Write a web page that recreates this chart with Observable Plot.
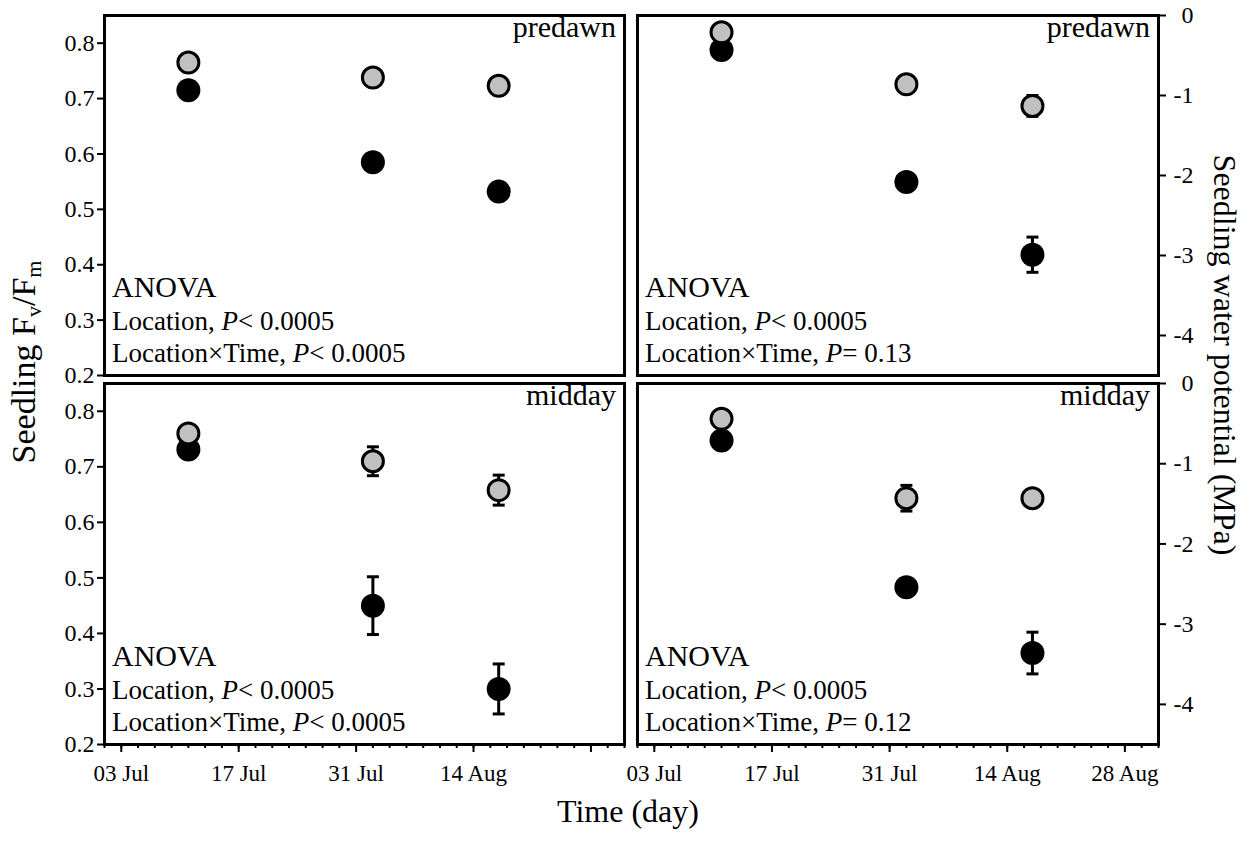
<!DOCTYPE html>
<html><head><meta charset="utf-8">
<script src="https://cdn.jsdelivr.net/npm/d3@7"></script>
<script src="https://cdn.jsdelivr.net/npm/@observablehq/plot@0.6"></script>
<style>
body{margin:0;background:#fff;}
#chart{position:relative;width:1251px;height:847px;font-family:"Liberation Serif","Times New Roman",serif;color:#000;overflow:hidden;}
.panel{position:absolute;}
.title{position:absolute;white-space:nowrap;font-size:32px;line-height:1;transform-origin:center center;}
.title sub{font-size:22px;vertical-align:-6px;line-height:0;}
</style></head><body><div id="chart"></div>
<script>
// ---------- data ----------
const sampleDates = ["2005-07-11", "2005-08-02", "2005-08-17"];
const majorTickDates = ["2005-07-03", "2005-07-17", "2005-07-31", "2005-08-14", "2005-08-28"];
const leftLabeledDates = ["2005-07-03", "2005-07-17", "2005-07-31", "2005-08-14"];
const timeDomain = ["2005-07-01", "2005-09-01"];
const fvfmTicks = [0.2, 0.3, 0.4, 0.5, 0.6, 0.7, 0.8];
const psiTicks = [0, -1, -2, -3, -4];
const fvfmDomain = [0.2, 0.85];
const psiDomain = [-4.5, 0];

// Fv/Fm, predawn
const predawnFvFmGray = [0.765, 0.738, 0.723];
const predawnFvFmGrayErr = [0.008, 0.008, 0.008];
const predawnFvFmBlack = [0.715, 0.585, 0.532];
const predawnFvFmBlackErr = [0.008, 0.010, 0.012];
// Fv/Fm, midday
const middayFvFmGray = [0.760, 0.710, 0.658];
const middayFvFmGrayErr = [0.008, 0.026, 0.027];
const middayFvFmBlack = [0.731, 0.450, 0.300];
const middayFvFmBlackErr = [0.010, 0.052, 0.045];
// Water potential (MPa), predawn
const predawnPsiGray = [-0.21, -0.86, -1.13];
const predawnPsiGrayErr = [0.05, 0.05, 0.13];
const predawnPsiBlack = [-0.43, -2.08, -2.99];
const predawnPsiBlackErr = [0.05, 0.08, 0.22];
// Water potential (MPa), midday
const middayPsiGray = [-0.44, -1.43, -1.43];
const middayPsiGrayErr = [0.05, 0.16, 0.05];
const middayPsiBlack = [-0.71, -2.54, -3.36];
const middayPsiBlackErr = [0.05, 0.08, 0.26];

// ---------- helpers ----------
const FONT = '"Liberation Serif", "Times New Roman", serif';
const GRAY = "#c0c0c0";
const rows = (vals, errs) => sampleDates.map((d, i) => ({date: new Date(d), v: vals[i], lo: vals[i] - errs[i], hi: vals[i] + errs[i]}));
const capSymbol = {draw(ctx, size) { const w = Math.sqrt(size / Math.PI); ctx.moveTo(-w, 0); ctx.lineTo(w, 0); }};
const fmtDate = d3.utcFormat("%d %b");
const minorDates = d3.utcDay.range(new Date("2005-07-01"), new Date("2005-09-02"), 2);

function addLabel(svg, x, y, parts, size, anchor = "start") {
  const t = d3.select(svg).append("text")
    .attr("x", x).attr("y", y)
    .style("font-family", FONT).style("font-size", size + "px")
    .attr("text-anchor", anchor).attr("fill", "black");
  for (const [s, it] of parts) t.append("tspan").style("font-style", it ? "italic" : null).text(s);
}

function panel(cfg) {
  const {left, top, width, height, ml, mr, mt, mb, yDomain, side, bottomAxis, labeled,
         gray, grayErr, black, blackErr, period, stat2} = cfg;
  const g = rows(gray, grayErr), b = rows(black, blackErr);
  const marks = [];
  if (side === "left") {
    marks.push(Plot.axisY(fvfmTicks, {anchor: "left", tickSize: 7, tickPadding: 3, tickFormat: d3.format(".1f"),
      fontSize: 24, strokeWidth: 2, label: null}));
  } else {
    marks.push(Plot.axisY(psiTicks, {anchor: "right", tickSize: 7, tickPadding: 28, textAnchor: "end",
      tickFormat: d => d === 0 ? "0" : "-" + Math.abs(d), fontSize: 24, strokeWidth: 2, label: null}));
  }
  if (bottomAxis) {
    marks.push(Plot.axisX(minorDates, {anchor: "bottom", tickSize: 4, fill: "none", strokeWidth: 2, label: null}));
    marks.push(Plot.axisX(majorTickDates.map(d => new Date(d)), {anchor: "bottom", tickSize: 8, tickPadding: 12,
      tickFormat: d => labeled.includes(d.toISOString().slice(0, 10)) ? fmtDate(d) : "",
      fontSize: 23, strokeWidth: 2, label: null}));
  }
  for (const data of [b, g]) {
    marks.push(Plot.ruleX(data, {x: "date", y1: "lo", y2: "hi", stroke: "black", strokeWidth: 3}));
    marks.push(Plot.dot(data, {x: "date", y: "lo", symbol: capSymbol, r: 6, stroke: "black", strokeWidth: 3}));
    marks.push(Plot.dot(data, {x: "date", y: "hi", symbol: capSymbol, r: 6, stroke: "black", strokeWidth: 3}));
  }
  marks.push(Plot.dot(b, {x: "date", y: "v", r: 12, fill: "black", stroke: "none"}));
  marks.push(Plot.dot(g, {x: "date", y: "v", r: 10.5, fill: GRAY, stroke: "black", strokeWidth: 3}));
  marks.push(Plot.frame({stroke: "black", strokeWidth: 3}));

  const svg = Plot.plot({
    width, height, marginLeft: ml, marginRight: mr, marginTop: mt, marginBottom: mb,
    style: {fontFamily: FONT, fontSize: "22px", background: "transparent", overflow: "visible", color: "black"},
    x: {type: "utc", domain: timeDomain.map(d => new Date(d)), axis: null},
    y: {domain: yDomain, axis: null},
    marks
  });
  const fl = ml, fr = width - mr, fb = height - mb;
  addLabel(svg, fr - 8, mt + 22, [[period, false]], 30, "end");
  addLabel(svg, fl + 8, fb - 78, [["ANOVA", false]], 30);
  addLabel(svg, fl + 8, fb - 45, [["Location, ", false], ["P", true], ["< 0.0005", false]], 27);
  addLabel(svg, fl + 8, fb - 13, [["Location\u00d7Time, ", false], ["P", true], [stat2, false]], 27);
  svg.classList.add("panel");
  svg.style.left = left + "px";
  svg.style.top = top + "px";
  document.getElementById("chart").appendChild(svg);
}

panel({left: 0, top: 0, width: 640, height: 380, ml: 104, mr: 16, mt: 15, mb: 5, yDomain: fvfmDomain, side: "left",
  bottomAxis: false, gray: predawnFvFmGray, grayErr: predawnFvFmGrayErr, black: predawnFvFmBlack, blackErr: predawnFvFmBlackErr,
  period: "predawn", stat2: "< 0.0005"});
panel({left: 0, top: 380, width: 640, height: 420, ml: 104, mr: 16, mt: 3, mb: 56, yDomain: fvfmDomain, side: "left",
  bottomAxis: true, labeled: leftLabeledDates, gray: middayFvFmGray, grayErr: middayFvFmGrayErr, black: middayFvFmBlack, blackErr: middayFvFmBlackErr,
  period: "midday", stat2: "< 0.0005"});
panel({left: 630, top: 0, width: 621, height: 380, ml: 7, mr: 93, mt: 15, mb: 5, yDomain: psiDomain, side: "right",
  bottomAxis: false, gray: predawnPsiGray, grayErr: predawnPsiGrayErr, black: predawnPsiBlack, blackErr: predawnPsiBlackErr,
  period: "predawn", stat2: "= 0.13"});
panel({left: 630, top: 380, width: 621, height: 420, ml: 7, mr: 93, mt: 3, mb: 56, yDomain: psiDomain, side: "right",
  bottomAxis: true, labeled: majorTickDates, gray: middayPsiGray, grayErr: middayPsiGrayErr, black: middayPsiBlack, blackErr: middayPsiBlackErr,
  period: "midday", stat2: "= 0.12"});

// axis titles
const chart = document.getElementById("chart");
function title(html, cx, cy, rot, size) {
  const d = document.createElement("div");
  d.className = "title";
  d.style.fontSize = size + "px";
  d.innerHTML = html;
  chart.appendChild(d);
  const w = d.offsetWidth, h = d.offsetHeight;
  d.style.left = (cx - w / 2) + "px";
  d.style.top = (cy - h / 2) + "px";
  d.style.transform = `rotate(${rot}deg)`;
}
title("Seedling F<sub>v</sub>/F<sub>m</sub>", 24, 362, -90, 34);
title("Seedling water potential (MPa)", 1225, 355, 90, 32);
title("Time (day)", 628, 811, 0, 32);
</script>
</body></html>
